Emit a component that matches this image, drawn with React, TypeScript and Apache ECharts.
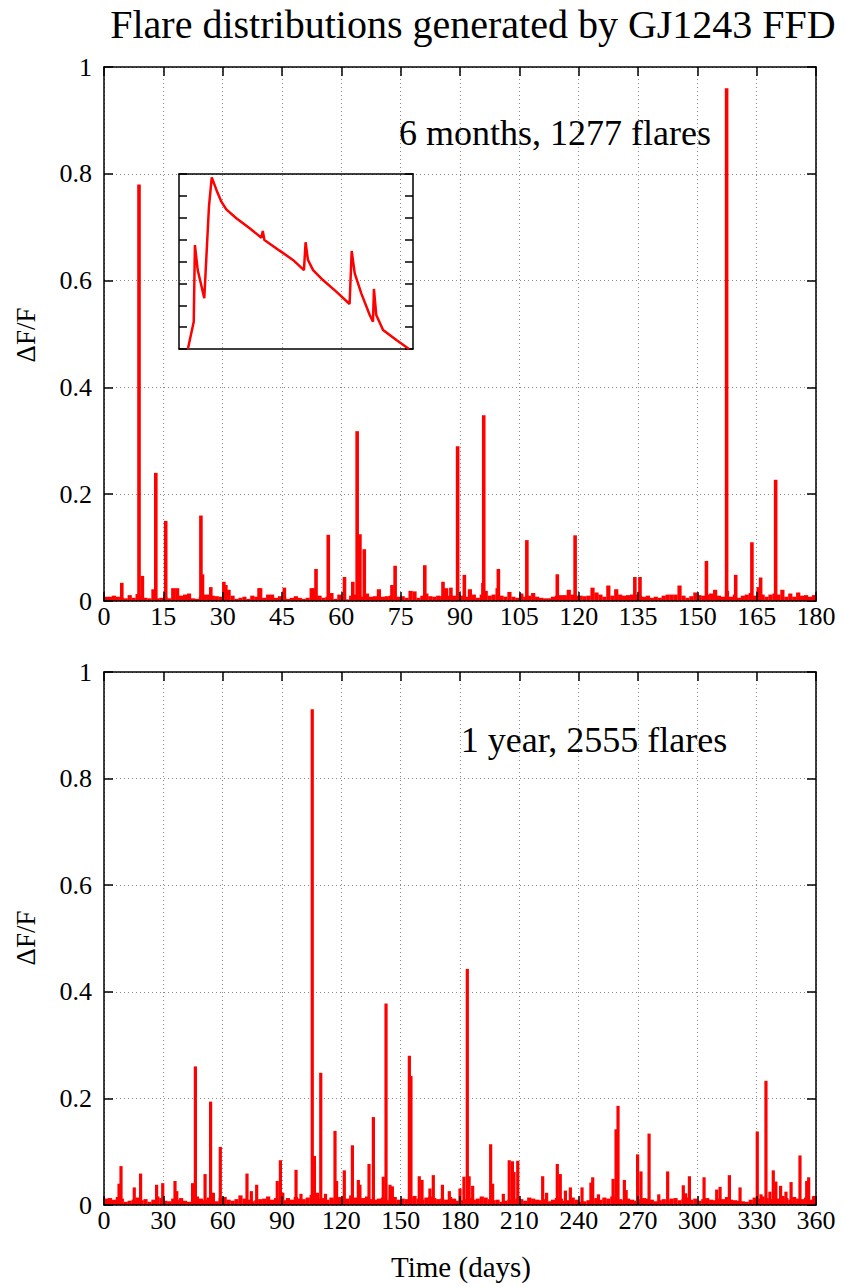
import React, { useEffect, useRef } from "react";
import * as echarts from "echarts";

// ---------- texts ----------
const TITLE = "Flare distributions generated by GJ1243 FFD";
const TOP_NOTE = "6 months, 1277 flares";
const BOTTOM_NOTE = "1 year, 2555 flares";
const Y_NAME = "ΔF/F";
const X_NAME = "Time (days)";

// ---------- axes / tick labels ----------
const topXMax = 180;
const topXInterval = 15;
const bottomXMax = 360;
const bottomXInterval = 30;
const yMax = 1;
const yInterval = 0.2;
const topXTicks = [0, 15, 30, 45, 60, 75, 90, 105, 120, 135, 150, 165, 180];
const bottomXTicks = [0, 30, 60, 90, 120, 150, 180, 210, 240, 270, 300, 330, 360];
const yTicks = [0, 0.2, 0.4, 0.6, 0.8, 1];
const yTickLabels = ["0", "0.2", "0.4", "0.6", "0.8", "1"];

// ---------- data: 6 months panel ----------
// small background flares, one value per day (day bin i)
const topBase = [
  0.008, 0.008, 0.010, 0.008, 0.006, 0.005, 0.011, 0.006, 0.013, 0.010,
  0.006, 0.005, 0.022, 0.005, 0.006, 0.008, 0.005, 0.024, 0.024, 0.010,
  0.012, 0.014, 0.005, 0.004, 0.008, 0.012, 0.012, 0.010, 0.009, 0.008,
  0.010, 0.021, 0.010, 0.004, 0.006, 0.008, 0.004, 0.010, 0.008, 0.024,
  0.006, 0.012, 0.012, 0.006, 0.009, 0.008, 0.004, 0.006, 0.009, 0.006,
  0.004, 0.006, 0.024, 0.010, 0.010, 0.006, 0.008, 0.015, 0.004, 0.012,
  0.006, 0.003, 0.010, 0.012, 0.010, 0.008, 0.014, 0.008, 0.009, 0.022,
  0.008, 0.009, 0.010, 0.004, 0.008, 0.009, 0.006, 0.019, 0.018, 0.006,
  0.010, 0.014, 0.009, 0.008, 0.010, 0.009, 0.024, 0.010, 0.010, 0.009,
  0.010, 0.008, 0.022, 0.012, 0.006, 0.012, 0.019, 0.010, 0.012, 0.024,
  0.010, 0.008, 0.017, 0.008, 0.006, 0.014, 0.008, 0.010, 0.015, 0.008,
  0.006, 0.005, 0.005, 0.008, 0.010, 0.011, 0.011, 0.021, 0.012, 0.010,
  0.010, 0.009, 0.010, 0.025, 0.016, 0.012, 0.008, 0.029, 0.010, 0.022,
  0.012, 0.010, 0.011, 0.012, 0.012, 0.010, 0.008, 0.010, 0.006, 0.008,
  0.006, 0.010, 0.012, 0.012, 0.012, 0.029, 0.010, 0.006, 0.009, 0.016,
  0.011, 0.010, 0.012, 0.014, 0.021, 0.010, 0.008, 0.019, 0.008, 0.012,
  0.006, 0.010, 0.012, 0.015, 0.010, 0.026, 0.012, 0.008, 0.012, 0.014,
  0.012, 0.021, 0.008, 0.014, 0.008, 0.016, 0.010, 0.011, 0.008, 0.011,
];
// individual flares: [day, peak ΔF/F]
const topFlares = [
  [4.5, 0.034], [8.85, 0.78], [9.7, 0.047], [13.1, 0.24], [15.6, 0.15],
  [24.5, 0.16], [24.9, 0.05], [27.0, 0.026], [30.3, 0.036], [30.8, 0.03],
  [39.2, 0.024], [45.6, 0.025], [52.9, 0.024], [53.6, 0.06], [56.7, 0.124],
  [60.8, 0.045], [62.9, 0.036], [64.0, 0.318], [64.7, 0.125], [65.8, 0.097],
  [72.8, 0.03], [73.6, 0.066], [81.1, 0.067], [85.7, 0.036], [87.7, 0.025],
  [89.4, 0.29], [91.1, 0.049], [95.8, 0.034], [96.0, 0.348], [99.7, 0.06],
  [106.9, 0.114], [114.6, 0.05], [119.1, 0.123], [134.2, 0.045], [135.5, 0.045],
  [152.3, 0.075], [157.4, 0.96], [159.7, 0.049], [163.8, 0.11], [166.0, 0.044],
  [169.8, 0.227],
];

// ---------- data: 1 year panel ----------
// small background flares, one value per two-day bin
const bottomBase = [
  0.012, 0.013, 0.010, 0.015, 0.012, 0.006, 0.008, 0.010, 0.014, 0.009,
  0.011, 0.006, 0.010, 0.016, 0.013, 0.008, 0.007, 0.012, 0.010, 0.013,
  0.008, 0.006, 0.010, 0.016, 0.012, 0.009, 0.014, 0.011, 0.007, 0.013,
  0.015, 0.010, 0.008, 0.011, 0.018, 0.012, 0.010, 0.007, 0.009, 0.011,
  0.012, 0.016, 0.010, 0.013, 0.011, 0.009, 0.013, 0.010, 0.015, 0.012,
  0.011, 0.014, 0.019, 0.016, 0.012, 0.013, 0.010, 0.014, 0.012, 0.015,
  0.010, 0.012, 0.018, 0.014, 0.009, 0.013, 0.016, 0.011, 0.010, 0.012,
  0.014, 0.009, 0.013, 0.015, 0.010, 0.012, 0.011, 0.013, 0.017, 0.012,
  0.010, 0.014, 0.016, 0.013, 0.011, 0.012, 0.010, 0.015, 0.012, 0.008,
  0.009, 0.011, 0.013, 0.010, 0.012, 0.016, 0.014, 0.011, 0.009, 0.010,
  0.006, 0.008, 0.010, 0.009, 0.012, 0.011, 0.008, 0.014, 0.012, 0.010,
  0.009, 0.011, 0.007, 0.010, 0.013, 0.012, 0.008, 0.009, 0.014, 0.010,
  0.006, 0.007, 0.009, 0.011, 0.013, 0.010, 0.014, 0.012, 0.016, 0.010,
  0.011, 0.009, 0.012, 0.010, 0.008, 0.011, 0.013, 0.012, 0.010, 0.007,
  0.009, 0.011, 0.010, 0.012, 0.013, 0.009, 0.011, 0.014, 0.010, 0.012,
  0.008, 0.011, 0.013, 0.010, 0.009, 0.012, 0.011, 0.015, 0.010, 0.009,
  0.008, 0.007, 0.006, 0.010, 0.014, 0.012, 0.016, 0.013, 0.011, 0.014,
  0.012, 0.017, 0.013, 0.010, 0.015, 0.012, 0.011, 0.014, 0.010, 0.016,
];
const bottomFlares = [
  [7.6, 0.04], [8.6, 0.073], [15.3, 0.033], [18.5, 0.059], [26.6, 0.038],
  [29.7, 0.041], [35.9, 0.045], [36.8, 0.026], [44.8, 0.041], [46.2, 0.26],
  [51.1, 0.058], [53.9, 0.194], [55.3, 0.023], [58.8, 0.109], [72.3, 0.059],
  [74.5, 0.026], [77.2, 0.038], [87.6, 0.045], [89.2, 0.084], [90.4, 0.023],
  [97.1, 0.066], [99.6, 0.021], [105.3, 0.93], [106.4, 0.092], [107.9, 0.023],
  [109.6, 0.248], [112.0, 0.021], [116.8, 0.139], [117.6, 0.045], [121.5, 0.065],
  [125.6, 0.112], [128.6, 0.047], [129.4, 0.038], [134.0, 0.077], [136.2, 0.165],
  [141.2, 0.053], [142.6, 0.378], [144.6, 0.038], [145.8, 0.035], [154.4, 0.28],
  [155.2, 0.242], [159.4, 0.054], [160.8, 0.047], [164.8, 0.031], [166.5, 0.056],
  [171.1, 0.038], [174.6, 0.026], [180.0, 0.031], [182.0, 0.053], [183.7, 0.443],
  [184.6, 0.054], [186.4, 0.036], [195.5, 0.114], [196.5, 0.04], [201.9, 0.021],
  [204.9, 0.084], [206.5, 0.082], [207.3, 0.062], [209.2, 0.083], [221.8, 0.054],
  [223.8, 0.023], [229.2, 0.077], [230.7, 0.058], [233.3, 0.027], [235.8, 0.033],
  [241.7, 0.033], [246.2, 0.042], [247.1, 0.052], [250.0, 0.02], [257.4, 0.049],
  [258.9, 0.142], [259.9, 0.186], [263.1, 0.047], [264.0, 0.028], [269.8, 0.095],
  [271.5, 0.063], [275.6, 0.134], [280.5, 0.02], [285.0, 0.063], [292.9, 0.037],
  [294.1, 0.022], [296.0, 0.054], [303.4, 0.052], [309.8, 0.029], [311.5, 0.034],
  [316.2, 0.056], [321.6, 0.033], [330.3, 0.138], [332.2, 0.02], [334.7, 0.233],
  [336.7, 0.025], [338.4, 0.065], [339.7, 0.044], [342.1, 0.036], [344.8, 0.025],
  [347.4, 0.043], [351.9, 0.093], [355.3, 0.045], [356.3, 0.052], [359.0, 0.017],
];

// ---------- data: inset (flare template, arbitrary units) ----------
const insetTime = [
  3.8, 6.3, 6.8, 8.0, 10.8, 12.8, 14.0, 16.0, 18.1, 20.2, 24.5, 30.2, 35.2, 35.8,
  36.5, 43.0, 48.7, 53.4, 54.1, 55.1, 57.3, 61.5, 67.2, 72.9, 73.8, 75.1, 77.9,
  81.5, 82.9, 83.3, 84.3, 87.2, 92.9, 98.3,
];
const insetFlux = [
  0.0, 0.156, 0.594, 0.451, 0.29, 0.813, 0.981, 0.909, 0.842, 0.798, 0.747, 0.69,
  0.636, 0.674, 0.623, 0.562, 0.509, 0.451, 0.61, 0.509, 0.451, 0.394, 0.328,
  0.257, 0.56, 0.432, 0.318, 0.194, 0.156, 0.343, 0.194, 0.109, 0.051, 0.0,
];

const RED = "#ff0000";
const BLACK = "#000000";
const FONT = "Liberation Serif";

function spikeRender(width: number) {
  return (params: any, api: any) => {
    const x = api.value(0);
    const y = api.value(1);
    const base = api.coord([x, 0]);
    const top = api.coord([x, y]);
    return {
      type: "rect",
      shape: { x: base[0] - width / 2, y: top[1], width, height: base[1] - top[1] },
      style: { fill: RED },
    };
  };
}

const axisLineStyle = { color: BLACK, width: 1.5 };
const gridLineStyle = { color: "#8a8a8a", width: 1, type: [1, 3] as any };

function makeXAxes(gridIndex: number, max: number, interval: number) {
  return [
    {
      type: "value", gridIndex, min: 0, max, interval, position: "bottom", z: 5,
      axisLine: { show: true, onZero: false, lineStyle: axisLineStyle },
      axisTick: { show: true, inside: true, length: 9, lineStyle: axisLineStyle },
      axisLabel: { show: false },
      splitLine: { show: false },
    },
    {
      type: "value", gridIndex, min: 0, max, interval, position: "top", z: 0,
      axisLine: { show: true, onZero: false, lineStyle: axisLineStyle },
      axisTick: { show: true, inside: true, length: 9, lineStyle: axisLineStyle },
      axisLabel: { show: false },
      splitLine: { show: true, lineStyle: gridLineStyle },
    },
  ];
}

function makeYAxes(gridIndex: number) {
  return [
    {
      type: "value", gridIndex, min: 0, max: yMax, interval: yInterval, position: "left", z: 5,
      axisLine: { show: true, onZero: false, lineStyle: axisLineStyle },
      axisTick: { show: true, inside: true, length: 9, lineStyle: axisLineStyle },
      axisLabel: { show: false },
      splitLine: { show: false },
    },
    {
      type: "value", gridIndex, min: 0, max: yMax, interval: yInterval, position: "right", z: 0,
      axisLine: { show: true, onZero: false, lineStyle: axisLineStyle },
      axisTick: { show: true, inside: true, length: 9, lineStyle: axisLineStyle },
      axisLabel: { show: false },
      splitLine: { show: true, lineStyle: gridLineStyle },
    },
  ];
}

const textEl = (text: string, x: number, y: number, size: number, align: string, vAlign: string, rotation = 0) => ({
  type: "text",
  x,
  y,
  rotation,
  z: 10,
  style: { text, fontFamily: FONT, fontSize: size, fill: BLACK, align, verticalAlign: vAlign },
});

export default function App() {
  const ref = useRef<HTMLDivElement>(null);

  useEffect(() => {
    document.body.style.margin = "0";
    if (!ref.current) return;
    const chart = echarts.init(ref.current, undefined, { renderer: "svg" });

    const topBaseData = topBase.map((v, i) => [i + 0.5, v]);
    const bottomBaseData = bottomBase.map((v, i) => [2 * i + 1, v]);
    const insetData = insetTime.map((t, i) => [t, insetFlux[i]]);

    const insetX = (position: string) => ({
      type: "value", gridIndex: 2, min: 0, max: 100, position,
      axisLine: { show: true, onZero: false, lineStyle: axisLineStyle },
      axisTick: { show: false }, axisLabel: { show: false }, splitLine: { show: false },
    });
    const insetY = (position: string) => ({
      type: "value", gridIndex: 2, min: 0, max: 1, interval: 0.125, position,
      axisLine: { show: true, onZero: false, lineStyle: axisLineStyle },
      axisTick: { show: true, inside: true, length: 8, lineStyle: axisLineStyle },
      axisLabel: { show: false }, splitLine: { show: false },
    });

    const option: any = {
      animation: false,
      backgroundColor: "#ffffff",
      textStyle: { fontFamily: FONT },
      grid: [
        { left: 104, top: 67, width: 712, height: 534 },
        { left: 104, top: 672, width: 712, height: 533 },
        { left: 179, top: 174, width: 234, height: 175 },
      ],
      xAxis: [
        ...makeXAxes(0, topXMax, topXInterval),
        ...makeXAxes(1, bottomXMax, bottomXInterval),
        insetX("bottom"),
        insetX("top"),
      ],
      yAxis: [...makeYAxes(0), ...makeYAxes(1), insetY("left"), insetY("right")],
      series: [
        { type: "custom", xAxisIndex: 0, yAxisIndex: 0, renderItem: spikeRender(4.2), data: topBaseData, z: 2 },
        { type: "custom", xAxisIndex: 0, yAxisIndex: 0, renderItem: spikeRender(3.6), data: topFlares, z: 2 },
        { type: "custom", xAxisIndex: 2, yAxisIndex: 2, renderItem: spikeRender(4.2), data: bottomBaseData, z: 2 },
        { type: "custom", xAxisIndex: 2, yAxisIndex: 2, renderItem: spikeRender(3.2), data: bottomFlares, z: 2 },
        {
          type: "line", xAxisIndex: 4, yAxisIndex: 4, data: insetData, showSymbol: false, symbol: "none",
          lineStyle: { color: RED, width: 2.5 }, z: 3,
        },
      ],
    };

    chart.setOption(option);

    // tick labels placed through the axes' own scales
    const labels: any[] = [];
    const panels = [
      { xi: 0, yi: 0, xTicks: topXTicks },
      { xi: 2, yi: 2, xTicks: bottomXTicks },
    ];
    panels.forEach((p) => {
      p.xTicks.forEach((v) => {
        const pt = chart.convertToPixel({ xAxisIndex: p.xi, yAxisIndex: p.yi }, [v, 0]) as number[];
        labels.push(textEl(String(v), pt[0], pt[1] + 2, 26, "center", "top"));
      });
      yTicks.forEach((v, i) => {
        const pt = chart.convertToPixel({ xAxisIndex: p.xi, yAxisIndex: p.yi }, [0, v]) as number[];
        labels.push(textEl(yTickLabels[i], pt[0] - 12, pt[1], 26, "right", "middle"));
      });
    });

    chart.setOption({
      graphic: [
        textEl(TITLE, 473, 24, 40, "center", "middle"),
        textEl(TOP_NOTE, 555, 133, 36, "center", "middle"),
        textEl(BOTTOM_NOTE, 594, 740, 36, "center", "middle"),
        textEl(Y_NAME, 26, 335, 27, "center", "middle", Math.PI / 2),
        textEl(Y_NAME, 26, 938, 27, "center", "middle", Math.PI / 2),
        textEl(X_NAME, 461, 1267, 29, "center", "middle"),
        ...labels,
      ],
    });

    return () => chart.dispose();
  }, []);

  return <div ref={ref} style={{ width: 846, height: 1287 }} />;
}
